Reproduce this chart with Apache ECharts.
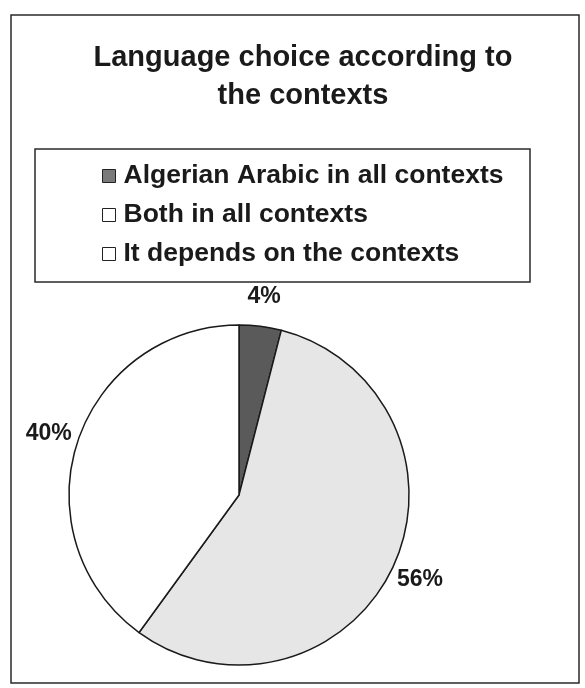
<!DOCTYPE html>
<html>
<head>
<meta charset="utf-8">
<script src="https://cdn.jsdelivr.net/npm/echarts@6/dist/echarts.min.js"></script>
<style>
  html, body { margin: 0; padding: 0; background: #fff; }
  #chart { width: 585px; height: 688px; }
</style>
</head>
<body>
<div id="chart"></div>
<script>
// Answer categories and their shares (percent)
const categories = [
  'Algerian Arabic in all contexts',
  'Both in all contexts',
  'It depends on the contexts'
];
const shares = [4, 56, 40];
const sliceColors = ['#5a5a5a', '#e6e6e6', '#ffffff'];
const legendIconColors = ['#7a7a7a', '#ffffff', '#ffffff'];

const FONT = '"Liberation Sans", Arial, sans-serif';
const PIE_CENTER = [239, 495];
const PIE_RADIUS = 170;

const pieData = categories.map((name, i) => ({
  name,
  value: shares[i],
  itemStyle: { color: sliceColors[i] }
}));

const chart = echarts.init(document.getElementById('chart'), null, { renderer: 'canvas' });

chart.setOption({
  backgroundColor: '#ffffff',
  animation: false,
  title: {
    text: 'Language choice according to\nthe contexts',
    left: 298,
    top: 34,
    textAlign: 'center',
    textStyle: {
      fontFamily: FONT,
      fontWeight: 'bold',
      fontSize: 29,
      lineHeight: 38,
      color: '#1a1a1a'
    }
  },
  legend: {
    orient: 'vertical',
    left: 97,
    top: 157,
    itemWidth: 13,
    itemHeight: 13,
    itemGap: 11,
    icon: 'rect',
    selectedMode: false,
    data: categories.map((name, i) => ({
      name,
      itemStyle: { color: legendIconColors[i], borderColor: '#222', borderWidth: 1 }
    })),
    textStyle: {
      fontFamily: FONT,
      fontWeight: 'bold',
      fontSize: 26.5,
      lineHeight: 28,
      color: '#1a1a1a',
      padding: [0, 0, 0, 3]
    }
  },
  graphic: [
    {
      // outer frame
      type: 'rect',
      shape: { x: 11, y: 15, width: 568, height: 668 },
      style: { fill: 'none', stroke: '#2a2a2a', lineWidth: 1.5 },
      silent: true
    },
    {
      // legend box
      type: 'rect',
      shape: { x: 35, y: 149, width: 495, height: 133 },
      style: { fill: 'none', stroke: '#2a2a2a', lineWidth: 1.5 },
      silent: true
    }
  ],
  series: [
    {
      // the pie itself
      type: 'pie',
      center: PIE_CENTER,
      radius: PIE_RADIUS,
      startAngle: 90,
      clockwise: true,
      silent: true,
      label: { show: false },
      labelLine: { show: false },
      itemStyle: { borderColor: '#1a1a1a', borderWidth: 1.5 },
      data: pieData
    },
    {
      // transparent ring outside the pie that carries the percentage labels,
      // so each label is centred on its slice's mid-angle
      type: 'pie',
      center: PIE_CENTER,
      radius: [PIE_RADIUS, PIE_RADIUS + 54],
      startAngle: 90,
      clockwise: true,
      silent: true,
      itemStyle: { color: 'rgba(0,0,0,0)', borderWidth: 0 },
      label: {
        show: true,
        position: 'inside',
        formatter: '{c}%',
        fontFamily: FONT,
        fontWeight: 'bold',
        fontSize: 23,
        color: '#1a1a1a'
      },
      labelLine: { show: false },
      data: categories.map((name, i) => ({ name, value: shares[i] }))
    }
  ]
});
</script>
</body>
</html>
